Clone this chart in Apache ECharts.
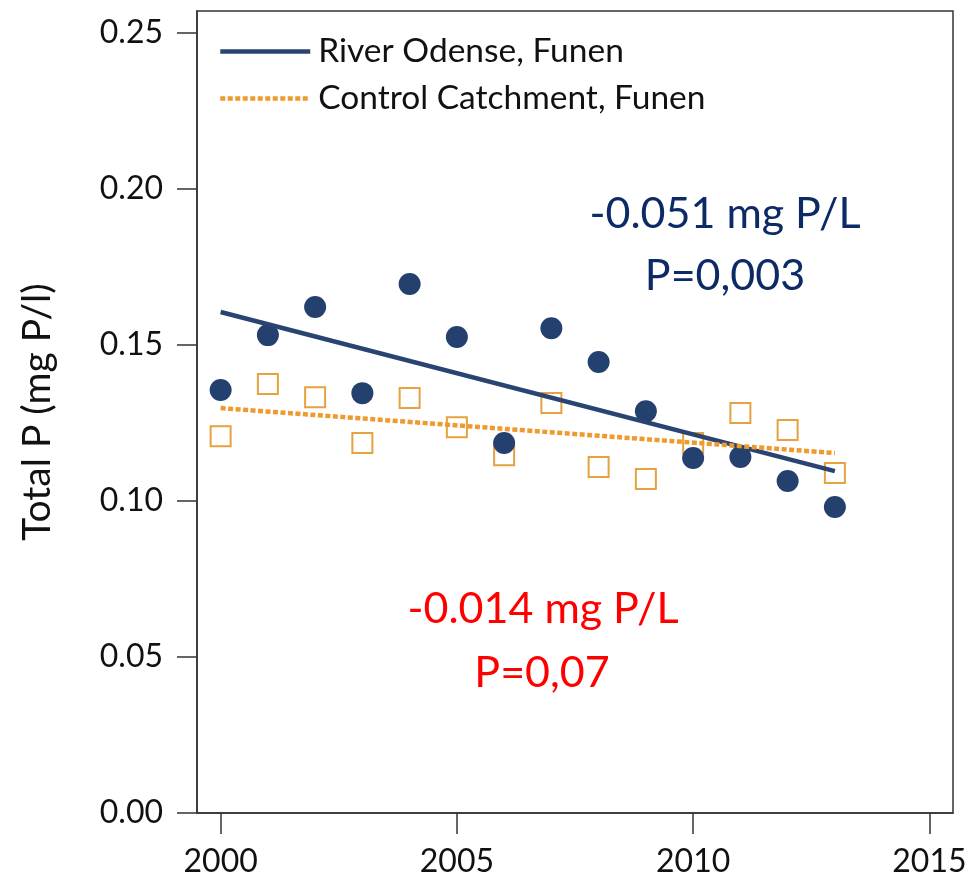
<!DOCTYPE html>
<html>
<head>
<meta charset="utf-8">
<script src="https://cdn.jsdelivr.net/npm/echarts@6/dist/echarts.min.js"></script>
<style>
html,body{margin:0;padding:0;background:#fff;}
#chart{width:973px;height:888px;}
</style>
</head>
<body>
<div id="chart"></div>
<script>
// ---- data ----
const years = [2000,2001,2002,2003,2004,2005,2006,2007,2008,2009,2010,2011,2012,2013];
const odense = [0.1356,0.1532,0.1622,0.1346,0.1696,0.1526,0.1186,0.1554,0.1446,0.1288,0.1138,0.1141,0.1064,0.0981];
const control = [0.1208,0.1375,0.1333,0.1186,0.1330,0.1237,0.1147,0.1314,0.1109,0.1071,0.1186,0.1282,0.1228,0.1090];
const trendYears = [2000, 2013];
const odenseTrend = [0.1606, 0.1096];
const controlTrend = [0.1298, 0.1154];
const xTicks = [2000, 2005, 2010, 2015];
const yTicks = [0, 0.05, 0.10, 0.15, 0.20, 0.25];
const seriesNames = ['River Odense, Funen', 'Control Catchment, Funen'];
const annOdense = ['-0.051 mg P/L', 'P=0,003'];
const annControl = ['-0.014 mg P/L', 'P=0,07'];

const pair = (xs, ys) => xs.map((x, i) => [x, ys[i]]);
const FONT = 'Lato';
const BLUE_LINE = '#2A4471';
const ORANGE_LINE = '#EE9A2F';
const DOTS = [5, 2.5];

const chart = echarts.init(document.getElementById('chart'));
chart.setOption({
  animation: false,
  backgroundColor: '#fff',
  textStyle: { fontFamily: FONT },
  grid: { left: 197, right: 20, top: 11, bottom: 75, show: true, borderColor: '#333', borderWidth: 1.5, backgroundColor: 'transparent' },
  legend: {
    data: [
      { name: seriesNames[0], itemStyle: { opacity: 0 }, lineStyle: { color: BLUE_LINE, width: 4.5, type: 'solid' } },
      { name: seriesNames[1], itemStyle: { opacity: 0 }, lineStyle: { color: ORANGE_LINE, width: 4.5, type: DOTS } }
    ],
    orient: 'vertical',
    left: 213, top: 29,
    itemWidth: 90, itemHeight: 14, itemGap: 12,
    textStyle: { fontFamily: FONT, fontSize: 33.5, color: '#111', lineHeight: 35, padding: [0, 0, 0, 3] },
    selectedMode: false
  },
  xAxis: {
    type: 'value', min: 1999.5, max: 2015.5,
    axisLine: { show: true, lineStyle: { color: '#333', width: 1.5 } },
    axisTick: { show: true, inside: false, length: 21, lineStyle: { color: '#333', width: 1.5 }, customValues: xTicks },
    axisLabel: { customValues: xTicks, fontFamily: FONT, fontSize: 32, color: '#111', margin: 33, formatter: v => String(v) },
    splitLine: { show: false }
  },
  yAxis: {
    type: 'value', min: 0, max: 0.2571,
    name: 'Total P (mg P/l)', nameLocation: 'middle', nameGap: 140, nameRotate: 90,
    nameTextStyle: { fontFamily: FONT, fontSize: 39, color: '#111' },
    axisLine: { show: true, lineStyle: { color: '#333', width: 1.5 } },
    axisTick: { show: true, inside: false, length: 20, lineStyle: { color: '#333', width: 1.5 }, customValues: yTicks },
    axisLabel: { customValues: yTicks, fontFamily: FONT, fontSize: 32, color: '#111', margin: 34, formatter: v => v.toFixed(2) },
    splitLine: { show: false }
  },
  series: [
    {
      name: 'Control data', type: 'scatter', z: 2,
      symbol: 'rect', symbolSize: 20,
      itemStyle: { color: 'rgba(255,255,255,0)', borderColor: '#E5A23F', borderWidth: 2, opacity: 1 },
      data: pair(years, control)
    },
    {
      name: 'Odense data', type: 'scatter', z: 3,
      symbol: 'circle', symbolSize: 22,
      itemStyle: { color: '#23406E', opacity: 1 },
      data: pair(years, odense)
    },
    {
      name: seriesNames[0], type: 'line', z: 4, symbol: 'none',
      lineStyle: { color: BLUE_LINE, width: 4.5, type: 'solid' },
      itemStyle: { color: BLUE_LINE },
      data: pair(trendYears, odenseTrend)
    },
    {
      name: seriesNames[1], type: 'line', z: 5, symbol: 'none',
      lineStyle: { color: ORANGE_LINE, width: 4.5, type: DOTS },
      itemStyle: { color: ORANGE_LINE },
      data: pair(trendYears, controlTrend)
    }
  ],
  graphic: [
    { type: 'text', x: 725, y: 214, z: 10, style: { text: annOdense[0], fill: '#0B2A66', font: '43px ' + FONT, align: 'center', verticalAlign: 'middle' } },
    { type: 'text', x: 725, y: 276, z: 10, style: { text: annOdense[1], fill: '#0B2A66', font: '43px ' + FONT, align: 'center', verticalAlign: 'middle' } },
    { type: 'text', x: 543, y: 609, z: 10, style: { text: annControl[0], fill: '#FF0000', font: '43px ' + FONT, align: 'center', verticalAlign: 'middle' } },
    { type: 'text', x: 542, y: 673, z: 10, style: { text: annControl[1], fill: '#FF0000', font: '43px ' + FONT, align: 'center', verticalAlign: 'middle' } }
  ]
});
</script>
</body>
</html>
